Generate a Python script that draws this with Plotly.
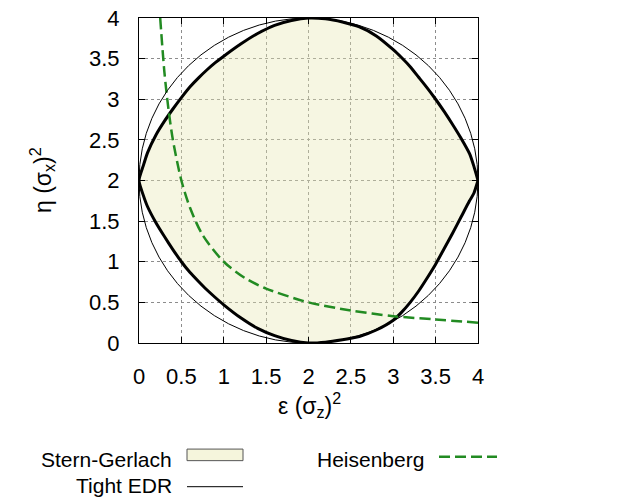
import plotly.graph_objects as go

# ---------------- data ----------------
tick_vals = [0, 0.5, 1, 1.5, 2, 2.5, 3, 3.5, 4]
tick_text = ["0", "0.5", "1", "1.5", "2", "2.5", "3", "3.5", "4"]

# Stern-Gerlach region: upper boundary (left -> right)
sg_upper_x = [0.0, 0.05, 0.1, 0.2, 0.3, 0.4, 0.5, 0.6, 0.7, 0.8, 0.9, 1.0, 1.2, 1.4, 1.6, 1.8, 2.0,
              2.2, 2.4, 2.6, 2.8, 3.0, 3.1, 3.2, 3.3, 3.4, 3.5, 3.6, 3.7, 3.8, 3.9, 3.95, 4.0]
sg_upper_y = [2.0, 2.18, 2.34, 2.56, 2.73, 2.88, 3.02, 3.15, 3.26, 3.36, 3.45, 3.53, 3.68, 3.81, 3.91, 3.97, 4.0,
              3.99, 3.95, 3.89, 3.78, 3.61, 3.51, 3.40, 3.27, 3.14, 3.0, 2.85, 2.69, 2.52, 2.33, 2.18, 2.0]
# Stern-Gerlach region: lower boundary (left -> right)
sg_lower_x = [0.0, 0.05, 0.1, 0.2, 0.3, 0.4, 0.5, 0.6, 0.7, 0.8, 0.9, 1.0, 1.2, 1.4, 1.6, 1.8, 2.0,
              2.2, 2.4, 2.6, 2.8, 3.0, 3.1, 3.2, 3.3, 3.4, 3.5, 3.6, 3.7, 3.8, 3.9, 3.95, 4.0]
sg_lower_y = [2.0, 1.82, 1.68, 1.48, 1.31, 1.15, 1.0, 0.87, 0.76, 0.655, 0.56, 0.47, 0.31, 0.18, 0.09, 0.03, 0.0,
              0.01, 0.04, 0.08, 0.16, 0.28, 0.38, 0.5, 0.64, 0.8, 0.97, 1.16, 1.35, 1.55, 1.75, 1.84, 2.0]

# Heisenberg curve
heis_x = [0.25, 0.3, 0.35, 0.4, 0.5, 0.6, 0.75, 1.0, 1.25, 1.5, 2.0, 2.5, 3.0, 3.5, 4.0]
heis_y = [4.0, 3.33, 2.86, 2.5, 2.0, 1.67, 1.33, 1.0, 0.8, 0.67, 0.5, 0.4, 0.33, 0.29, 0.25]

# Tight EDR: circle
edr_center_x = 2.0
edr_center_y = 2.0
edr_radius = 2.0

legend_labels = ["Stern-Gerlach", "Tight EDR", "Heisenberg"]

# ---------------- styling ----------------
W, H = 628, 503
L, R, T, B = 139, 150, 6, 160
PW = W - L - R
PH = H - T - B
FONT = "Liberation Sans, Arial, Helvetica, sans-serif"
BEIGE = "#f5f5dc"
GREEN = "#228b22"
DASH = "11px,5px"


def px(xp):
    return (xp - L) / PW


def py(yp):
    return (H - B - yp) / PH


poly_x = sg_upper_x + sg_lower_x[::-1]
poly_y = sg_upper_y + sg_lower_y[::-1]

fig = go.Figure()

# fill (semi transparent so dotted grid shows through)
fig.add_trace(go.Scatter(
    x=poly_x, y=poly_y, mode="lines", fill="toself",
    fillcolor="rgba(232,232,178,0.38)",
    line=dict(color="black", width=3, shape="spline", smoothing=0.6),
    hoverinfo="skip", showlegend=False))

fig.add_trace(go.Scatter(
    x=heis_x, y=heis_y, mode="lines",
    line=dict(color=GREEN, width=2.5, dash=DASH, shape="spline", smoothing=0.8),
    hoverinfo="skip", showlegend=False, cliponaxis=True))

shapes = [
    dict(type="circle", xref="x", yref="y",
         x0=edr_center_x - edr_radius, x1=edr_center_x + edr_radius,
         y0=edr_center_y - edr_radius, y1=edr_center_y + edr_radius,
         line=dict(color="black", width=1), layer="above"),
    # legend symbols
    dict(type="rect", xref="paper", yref="paper",
         x0=px(187), x1=px(243), y0=py(465), y1=py(453),
         fillcolor=BEIGE, line=dict(color="#555555", width=1)),
    dict(type="line", xref="paper", yref="paper",
         x0=px(187), x1=px(243), y0=py(492), y1=py(492),
         line=dict(color="black", width=1)),
    dict(type="line", xref="paper", yref="paper",
         x0=px(439), x1=px(497), y0=py(461), y1=py(461),
         line=dict(color=GREEN, width=2.5, dash=DASH)),
]

annotations = [
    dict(text=legend_labels[0], xref="paper", yref="paper", x=px(174), y=py(464),
         xanchor="right", yanchor="middle", showarrow=False,
         font=dict(family=FONT, size=21, color="black")),
    dict(text=legend_labels[1], xref="paper", yref="paper", x=px(174), y=py(491),
         xanchor="right", yanchor="middle", showarrow=False,
         font=dict(family=FONT, size=21, color="black")),
    dict(text=legend_labels[2], xref="paper", yref="paper", x=px(426), y=py(464),
         xanchor="right", yanchor="middle", showarrow=False,
         font=dict(family=FONT, size=21, color="black")),
    # axis titles
    dict(text="ε (σ<sub>z</sub>)<sup>2</sup>", xref="paper", yref="paper",
         x=px(309), y=py(407), xanchor="center", yanchor="middle", showarrow=False,
         font=dict(family=FONT, size=23, color="black")),
    dict(text="η (σ<sub>x</sub>)<sup>2</sup>", xref="paper", yref="paper",
         x=px(42), y=py(174), xanchor="center", yanchor="middle", showarrow=False,
         textangle=-90, font=dict(family=FONT, size=23, color="black")),
]

axis_common = dict(
    range=[0, 4], tickvals=tick_vals, ticktext=tick_text,
    showgrid=True, gridcolor="#8c8c8c", griddash="dot", gridwidth=1,
    showline=True, linecolor="black", linewidth=1, mirror="allticks",
    ticks="inside", ticklen=6, tickcolor="black",
    tickfont=dict(family=FONT, size=22, color="black"),
    zeroline=False, fixedrange=True, ticklabeloverflow="allow",
)

fig.update_layout(
    width=W, height=H, autosize=False,
    margin=dict(l=L, r=R, t=T, b=B, pad=0),
    paper_bgcolor="white", plot_bgcolor="white",
    showlegend=False,
    xaxis=dict(**axis_common, ticklabelstandoff=14),
    yaxis=dict(**axis_common, ticklabelstandoff=14),
    shapes=shapes, annotations=annotations,
)

fig.write_html("out.html", config={"displayModeBar": False},
               post_script="document.body.style.margin='0px';document.body.style.overflow='hidden';")
